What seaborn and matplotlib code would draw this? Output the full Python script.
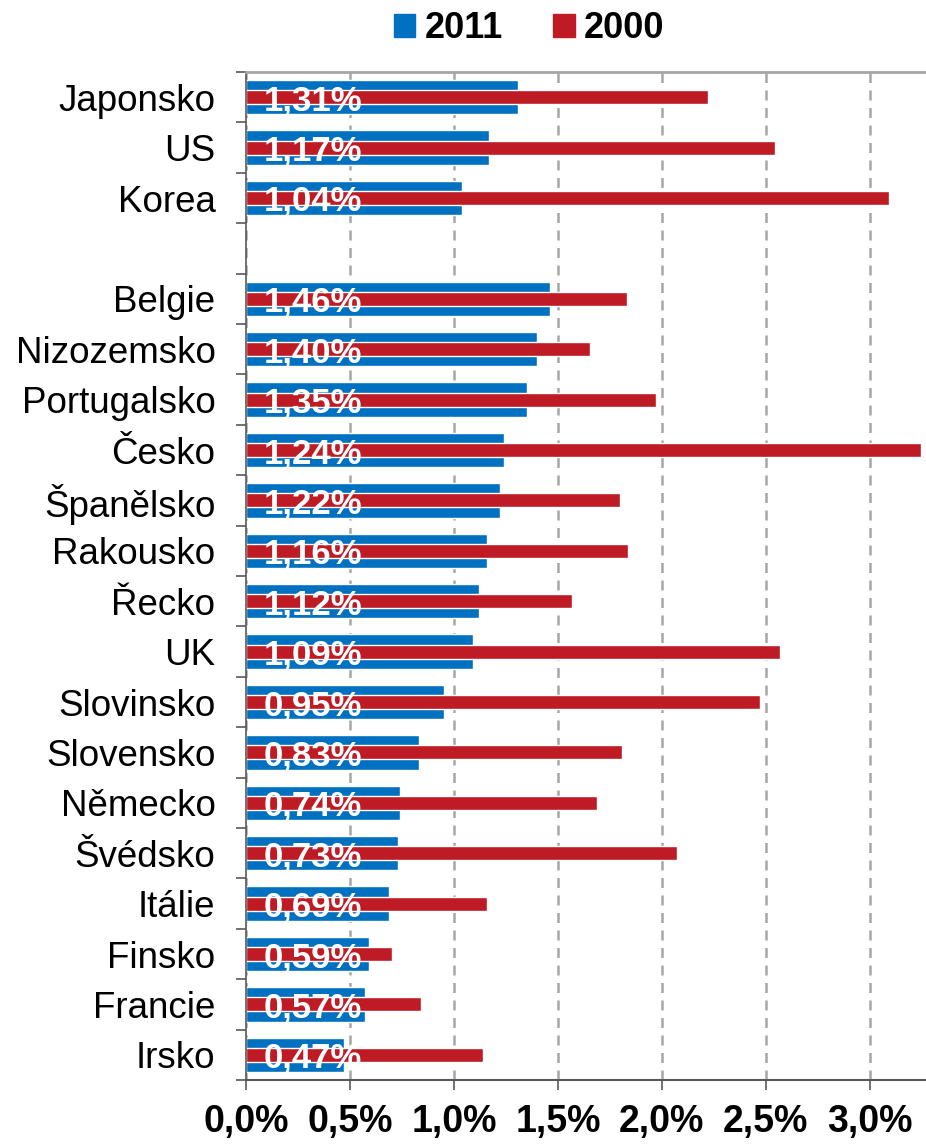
import pandas as pd
import numpy as np
from matplotlib import pyplot as plt
from matplotlib.patches import Patch
import seaborn as sns

sns.set_style('white')
plt.rcParams['font.family'] = ['Liberation Sans', 'DejaVu Sans']
plt.rcParams['text.color'] = 'black'
plt.rcParams['xtick.color'] = 'black'
plt.rcParams['ytick.color'] = 'black'

# data
zeme = ['Japonsko', 'US', 'Korea', 'Belgie', 'Nizozemsko', 'Portugalsko', 'Česko',
        'Španělsko', 'Rakousko', 'Řecko', 'UK', 'Slovinsko', 'Slovensko', 'Německo',
        'Švédsko', 'Itálie', 'Finsko', 'Francie', 'Irsko']
hodnoty_2011 = [1.31, 1.17, 1.04, 1.46, 1.40, 1.35, 1.24, 1.22, 1.16, 1.12, 1.09,
                0.95, 0.83, 0.74, 0.73, 0.69, 0.59, 0.57, 0.47]
hodnoty_2000 = [2.22, 2.545, 3.09, 1.83, 1.655, 1.97, 3.245, 1.80, 1.835, 1.57, 2.57,
                2.47, 1.81, 1.69, 2.075, 1.16, 0.70, 0.84, 1.14]
poradi = zeme[:3] + [' '] + zeme[3:]
x_ticks = [0, 0.5, 1.0, 1.5, 2.0, 2.5, 3.0]
x_labels = ['0,0%', '0,5%', '1,0%', '1,5%', '2,0%', '2,5%', '3,0%']

modra = '#0070C0'
cervena = '#BE1B25'

df = pd.DataFrame({'zeme': zeme, 'v2011': hodnoty_2011, 'v2000': hodnoty_2000})

fig = plt.figure(figsize=(9.26, 11.44), dpi=100)
ax = fig.add_axes([246 / 926, 1 - 1080 / 1144, 1 - 246 / 926, (1080 - 72) / 1144])

sns.barplot(data=df, y='zeme', x='v2011', order=poradi, color=modra, saturation=1,
            width=0.68, orient='h', ax=ax)
sns.barplot(data=df, y='zeme', x='v2000', order=poradi, color=cervena, saturation=1,
            width=0.28, orient='h', ax=ax)

ax.set_xlim(0, 3.27)
ax.set_ylim(19.5, -0.5)
ax.set_xlabel('')
ax.set_ylabel('')

ax.set_xticks(x_ticks)
ax.set_xticklabels(x_labels, fontsize=27, fontweight='bold')
ax.tick_params(axis='x', length=7, width=1.2, color='#595959', labelcolor='black',
               pad=10, bottom=True)
ax.tick_params(axis='y', which='major', length=0, labelsize=26.5, labelcolor='black', pad=22)
ax.set_yticks(np.arange(-0.5, 20, 1), minor=True)
ax.tick_params(axis='y', which='minor', length=7, width=1.2, color='#595959', left=True)

ax.xaxis.grid(True, linestyle=(0, (4, 3)), color='#A6A6A6', linewidth=1.8)
ax.set_axisbelow(True)

ax.spines['right'].set_visible(False)
ax.spines['top'].set_color('#A6A6A6')
ax.spines['top'].set_linewidth(2)
ax.spines['left'].set_color('#595959')
ax.spines['left'].set_linewidth(1.2)
ax.spines['bottom'].set_color('#595959')
ax.spines['bottom'].set_linewidth(1.5)

# popisky hodnot 2011
for z, v in zip(zeme, hodnoty_2011):
    i = poradi.index(z)
    ax.annotate(f'{v:.2f}%'.replace('.', ','), xy=(0, i), xytext=(13, 0),
                textcoords='offset points', va='center_baseline', ha='left',
                color='white', fontsize=25, fontweight='bold')

fig.legend(handles=[Patch(color=modra, label='2011'), Patch(color=cervena, label='2000')],
           loc='center', bbox_to_anchor=(529 / 926, 1 - 29 / 1144), ncol=2, frameon=False,
           prop={'size': 26, 'weight': 'bold'}, handlelength=0.6, handleheight=0.6,
           handletextpad=0.25, columnspacing=1.4, labelcolor='black')

fig.savefig('out.png', dpi=100)
